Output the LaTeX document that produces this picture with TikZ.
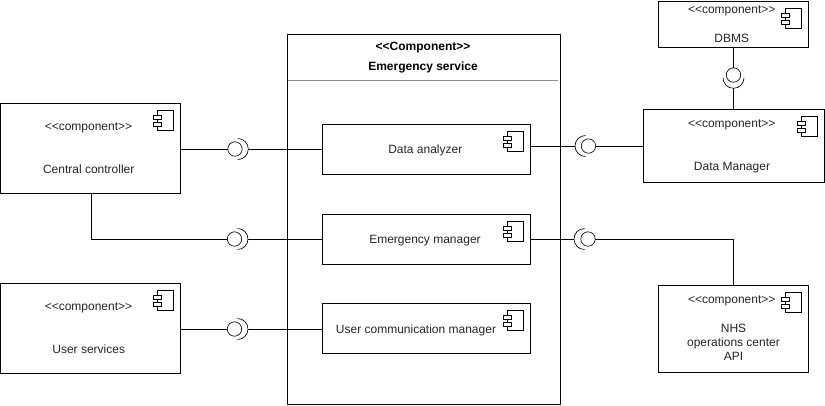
\documentclass[tikz,border=0pt]{standalone}
\usepackage{fontspec}
\setmainfont{Liberation Sans}
\usetikzlibrary{calc}
\tikzset{
  px/.style={x=.75pt,y=-.75pt},
  box/.style={draw=black,line width=.75pt,fill=white,rectangle,inner sep=0pt,outer sep=0pt},
  wire/.style={draw=black,line width=.75pt},
  ball/.style={circle,draw=black,line width=.5pt,fill=white,minimum size=10.8pt,inner sep=0pt,outer sep=0pt},
  cup/.style={draw=black,line width=.5pt},
  lbl/.style={font=\fontsize{9pt}{10.5pt}\selectfont,align=center,inner sep=0pt,text=black!85,anchor=base},
  ttl/.style={font=\fontsize{9pt}{10.5pt}\selectfont\bfseries,align=center,inner sep=0pt,anchor=base}
}
% name, x1, y1, x2, y2
\newcommand\compbox[5]{%
  \pgfmathsetmacro\cw{(#4-#2)*.75}\pgfmathsetmacro\ch{(#5-#3)*.75}%
  \node[box,minimum width=\cw pt,minimum height=\ch pt] (#1) at ({(#2+#4)/2},{(#3+#5)/2}) {};
}
\newcommand\compicon[1]{%
  \begin{scope}[shift={(#1.north east)},line width=.5pt]
    \draw (-23,7) rectangle (-7,27);
    \draw[fill=white] (-27,12) rectangle (-19,16);
    \draw[fill=white] (-27,19) rectangle (-19,23);
  \end{scope}
}
\begin{document}
\begin{tikzpicture}[px]
\useasboundingbox (0,0) rectangle (825,405);
% outer component
\compbox{service}{287.5}{34.5}{560}{404}
\coordinate (divL) at (288,80.5);
\coordinate (divR) at (558,80.5);
\draw[draw=black!45,line width=.75pt] (divL) -- (divR);
\node[ttl] (svcA) at (423,50.5) {<{}<Component>{}>};
\node[ttl] (svcB) at (423,70.5) {Emergency service};
% components
\compbox{central}{.5}{103.5}{180.5}{193}
\compbox{user}{.5}{283.5}{180.5}{373.5}
\compbox{dbms}{658.5}{1}{808.5}{47.5}
\compbox{manager}{643.5}{109.5}{824}{182.5}
\compbox{nhs}{658.5}{285.5}{808.5}{372.5}
\compbox{analyzer}{322.5}{124.5}{530.5}{174.5}
\compbox{emergency}{322.5}{214}{530.5}{264}
\compbox{comm}{322.5}{303.5}{530.5}{353.5}
\foreach \n in {central,user,dbms,manager,nhs,analyzer,emergency,comm}{\compicon{\n}}
% labels
\node[lbl] (t1) at (88.5,130) {<{}<component>{}>};
\node[lbl] (t2) at (88.7,173) {Central controller};
\node[lbl] (t3) at (88.5,310) {<{}<component>{}>};
\node[lbl] (t4) at (88.7,353) {User services};
\node[lbl] (t5) at (731.7,13) {<{}<component>{}>};
\node[lbl] (t6) at (731.7,42) {DBMS};
\node[lbl] (t7) at (731.7,127) {<{}<component>{}>};
\node[lbl] (t8) at (732,170) {Data Manager};
\node[lbl] (t9) at (731.7,303) {<{}<component>{}>};
\node[lbl] (t10) at (733.5,332) {NHS};
\node[lbl] (t10b) at (733.5,346) {operations center};
\node[lbl] (t10c) at (733.5,360) {API};
\node[lbl] (t11) at (425.3,153) {Data analyzer};
\node[lbl] (t12) at (425,243) {Emergency manager};
\node[lbl] (t13) at (416,333) {User communication manager};
% interfaces
\node[ball] (b1) at (235,149) {};
\node[ball] (b2) at (234.5,239) {};
\node[ball] (b3) at (234.5,329) {};
\node[ball] (b4) at (588.5,146) {};
\node[ball] (b5) at (588,239) {};
\node[ball] (b6) at (733.5,75) {};
\coordinate (a1) at (248.3,149);
\coordinate (a2) at (248,239);
\coordinate (a3) at (248,329);
\coordinate (a4) at (575,146);
\coordinate (a5) at (574,239);
\coordinate (a6) at (733.5,88.3);
\coordinate (bend) at (733.5,239);
\coordinate (elbow) at (91,239);
\draw[cup] ([shift={(-10.5,-10.5)}]a1) arc[start angle=90,end angle=-90,radius=7.875pt];
\draw[cup] ([shift={(-10.5,-10.5)}]a2) arc[start angle=90,end angle=-90,radius=7.875pt];
\draw[cup] ([shift={(-10.5,-10.5)}]a3) arc[start angle=90,end angle=-90,radius=7.875pt];
\draw[cup] ([shift={(10.5,-10.5)}]a4) arc[start angle=90,end angle=270,radius=7.875pt];
\draw[cup] ([shift={(10.5,-10.5)}]a5) arc[start angle=90,end angle=270,radius=7.875pt];
\draw[cup] ([shift={(-10.5,-10.5)}]a6) arc[start angle=180,end angle=360,radius=7.875pt];
% connectors
\draw[wire] (b1 -| central.east) -- (b1.west);
\draw[wire] (a1) -- (a1 -| analyzer.west);
\draw[wire] (elbow |- central.south) -- (elbow) -- (b2.west);
\draw[wire] (a2) -- (a2 -| emergency.west);
\draw[wire] (b3 -| user.east) -- (b3.west);
\draw[wire] (a3) -- (a3 -| comm.west);
\draw[wire] (a4 -| analyzer.east) -- (a4);
\draw[wire] (b4.east) -- (b4 -| manager.west);
\draw[wire] (a5 -| emergency.east) -- (a5);
\draw[wire] (b5.east) -- (bend) -- (bend |- nhs.north);
\draw[wire] (b6 |- dbms.south) -- (b6.north);
\draw[wire] (a6) -- (a6 |- manager.north);
\end{tikzpicture}
\end{document}
